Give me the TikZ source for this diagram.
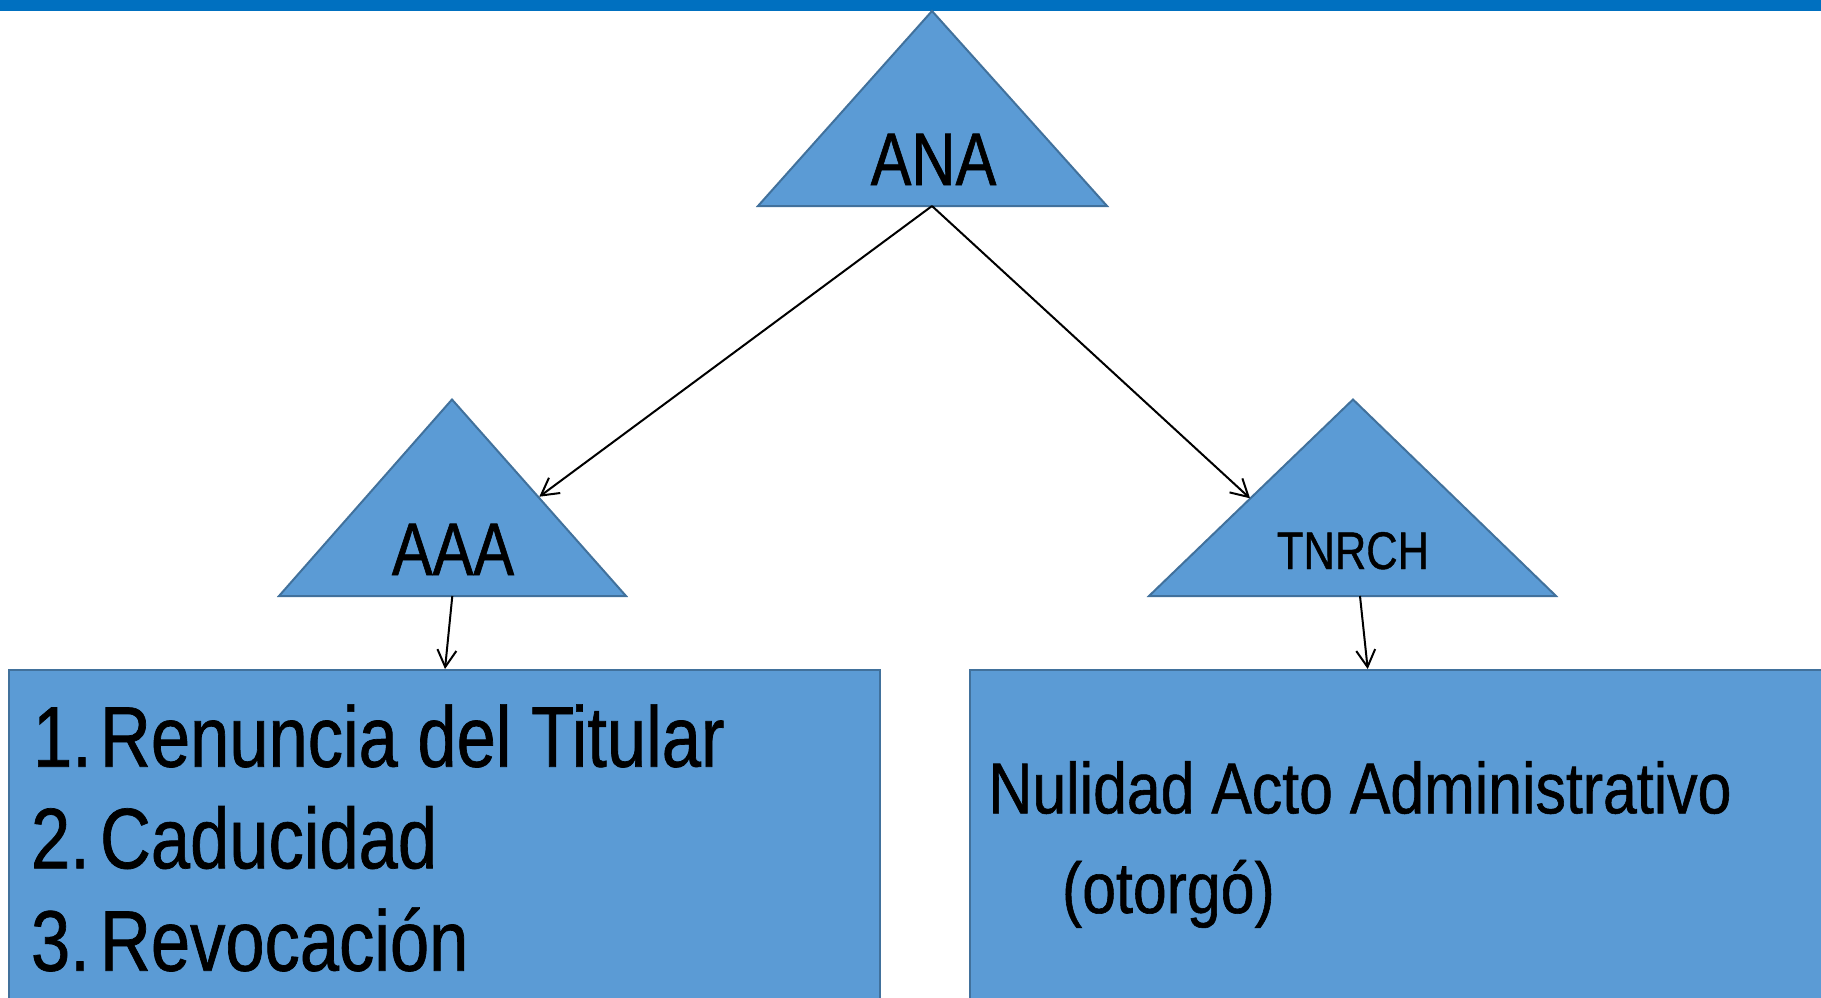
\documentclass[tikz,border=0pt]{standalone}
\usepackage{fontspec}
\setmainfont{Liberation Sans}[FakeStretch=0.82,FakeBold=0.8]
\newfontfamily\widefont{Liberation Sans}[FakeStretch=0.844,FakeBold=0.8]
\usetikzlibrary{arrows.meta}
\definecolor{barblue}{HTML}{0070C0}
\definecolor{shapefill}{HTML}{5B9BD5}
\definecolor{shapeline}{HTML}{41719C}
\tikzset{
  shapebox/.style={fill=shapefill, draw=shapeline, line width=2pt},
  conn/.style={draw=black, line width=2pt, -{Straight Barb[length=17pt,width=19pt,line width=2pt]}},
  lbl/.style={inner sep=0pt, outer sep=0pt, text=black},
}
\begin{document}
\begin{tikzpicture}[x=1pt,y=-1pt]
\useasboundingbox (0,0) rectangle (1821,997);
% top bar
\fill[barblue] (0,0) rectangle (1821,11);
% triangles
\draw[shapebox] (932,11) -- (1107,206) -- (758,206) -- cycle;
\draw[shapebox] (452,399.5) -- (626,596) -- (279,596) -- cycle;
\draw[shapebox] (1353,399.5) -- (1556,596) -- (1149,596) -- cycle;
% boxes
\draw[shapebox] (9,670) rectangle (880,1010);
\draw[shapebox] (970,670) rectangle (1840,1010);
% labels
\node[lbl, anchor=base] (ana) at (933.5,185) {\fontsize{74.5}{80}\selectfont ANA};
\node[lbl, anchor=base] (aaa) at (453,575) {\fontsize{74.5}{80}\selectfont AAA};
\node[lbl, anchor=base] (tnrch) at (1353,569) {\fontsize{53}{58}\selectfont TNRCH};
\node[lbl, anchor=base west] (n1) at (33,766.7) {\fontsize{86}{90}\selectfont 1.};
\node[lbl, anchor=base west] (i1) at (100,766.7) {\fontsize{86}{90}\selectfont Renuncia del Titular};
\node[lbl, anchor=base west] (n2) at (31,868.3) {\fontsize{86}{90}\selectfont 2.};
\node[lbl, anchor=base west] (i2) at (100,868.3) {\fontsize{86}{90}\selectfont Caducidad};
\node[lbl, anchor=base west] (n3) at (31,970.7) {\fontsize{86}{90}\selectfont 3.};
\node[lbl, anchor=base west] (i3) at (100,970.7) {\fontsize{86}{90}\selectfont Revocación};
\node[lbl, anchor=base west] (nul) at (988.5,813.3) {\widefont\fontsize{72}{76}\selectfont Nulidad Acto Administrativo};
\node[lbl, anchor=base west] (oto) at (1062,913) {\widefont\fontsize{72}{76}\selectfont (otorgó)};
% connector endpoints
\coordinate (anaB) at (932,206);
\coordinate (aaaR) at (539.3,496.7);
\coordinate (tnL) at (1250,498.3);
\coordinate (aaaB) at (452.3,596);
\coordinate (boxL) at (445,669);
\coordinate (tnB) at (1360,596);
\coordinate (boxR) at (1367.7,669);
% connectors
\draw[conn] (anaB) -- (aaaR);
\draw[conn] (anaB) -- (tnL);
\draw[conn] (aaaB) -- (boxL);
\draw[conn] (tnB) -- (boxR);
\end{tikzpicture}
\end{document}
